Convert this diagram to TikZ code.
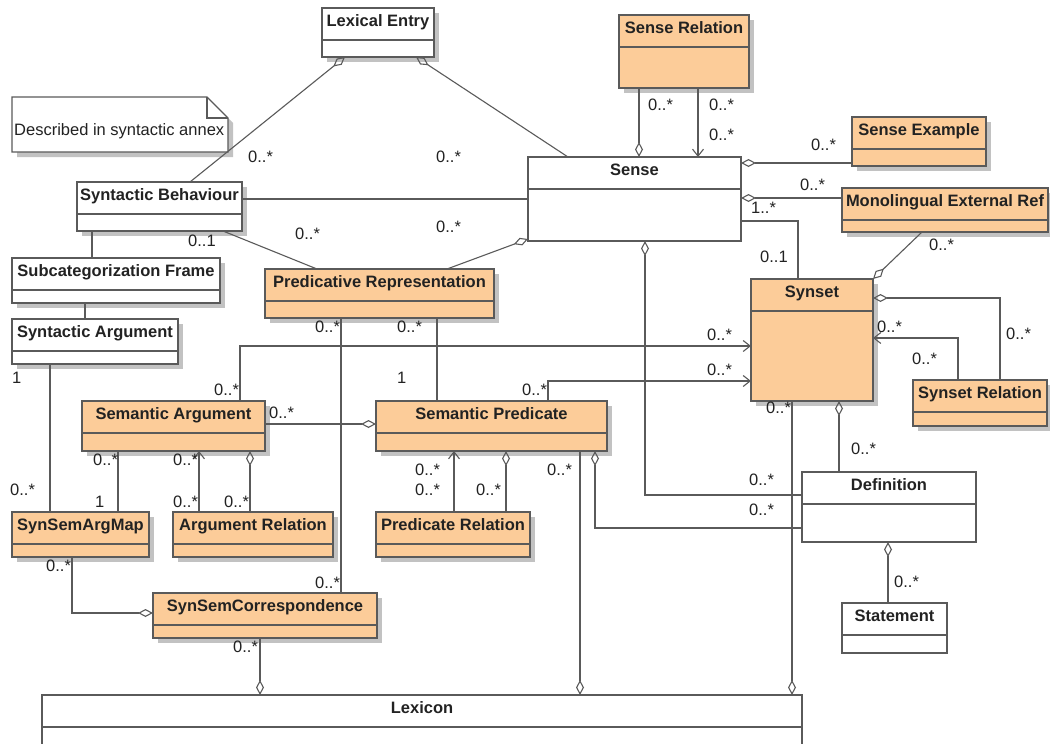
\documentclass[tikz,border=0pt]{standalone}
\usepackage{fontspec}
\setmainfont{Liberation Sans}
\usetikzlibrary{arrows.meta,shadows}

\definecolor{umlline}{HTML}{5A5A5A}
\definecolor{umlfill}{HTML}{FCCC99}
\definecolor{umlshadow}{HTML}{C2C2C2}
\definecolor{umltext}{HTML}{222222}

\tikzset{
  box/.style={draw=umlline, line width=1.1pt, fill=white, rectangle,
    inner sep=0pt, outer sep=0pt, anchor=north west},
  shadowed/.style={drop shadow={shadow xshift=5pt, shadow yshift=-5pt,
    fill=umlshadow, opacity=1}},
  entity/.style={fill=umlfill},
  plainbox/.style={},
  umldiv/.style={draw=umlline, line width=1.1pt},
  title/.style={anchor=base, inner sep=0pt, text=umltext,
    font=\bfseries\fontsize{16.5}{19}\selectfont},
  mult/.style={anchor=base west, inner sep=0pt, text=umltext,
    font=\fontsize{16.5}{19}\selectfont},
  conn/.style={draw=umlline, line width=1.1pt},
  aggend/.style={conn, -{Diamond[open, length=15pt, width=8pt]}},
  aggstart/.style={conn, {Diamond[open, length=15pt, width=8pt]}-},
  navend/.style={conn, -{Straight Barb[length=7pt, width=11pt]}},
}

% class box: name, x, y, width, height, style, title
\newcommand\umlclass[7]{%
  \node[box, #6, minimum width=#4pt, minimum height=#5pt] (#1) at (#2,#3) {};
  \draw[umldiv] ([yshift=-32pt]#1.north west) -- ([yshift=-32pt]#1.north east);
  \node[title] (#1-t) at ([yshift=-18pt]#1.north) {#7};
}
\newcounter{mlt}
\newcommand\mult[3]{\stepcounter{mlt}\node[mult] (m\arabic{mlt}) at (#1,#2) {#3};}

\begin{document}
\begin{tikzpicture}[x=1pt, y=-1pt]
\useasboundingbox (0,0) rectangle (1050,744);
\fill[white] (0,0) rectangle (1050,744);
\clip (0,0) rectangle (1050,744);

% ---- note ----
\fill[umlshadow] (17,102) -- (212,102) -- (233,123) -- (233,157) -- (17,157) -- cycle;
\draw[conn, fill=white] (12,97) -- (207,97) -- (228,118) -- (228,152) -- (12,152) -- cycle;
\draw[conn] (207,97) -- (207,118) -- (228,118);
\node[mult, font=\fontsize{16.5}{19}\selectfont] (notetext) at (14,135) {Described in syntactic annex};

% ---- classes ----
\umlclass{lexentry}{322}{8}{112}{49}{shadowed}{Lexical Entry}
\umlclass{senserel}{619}{15}{130}{73}{shadowed, entity}{Sense Relation}
\umlclass{synbeh}{77}{182}{165}{49}{shadowed}{Syntactic Behaviour}
\umlclass{sense}{528}{157}{213}{84}{plainbox}{Sense}
\umlclass{senseex}{852}{117}{134}{49}{shadowed, entity}{Sense Example}
\umlclass{monoref}{842}{188}{206}{44}{shadowed, entity}{Monolingual External Ref}
\umlclass{synset}{751}{279}{122}{122}{shadowed, entity}{Synset}
\umlclass{synrel}{913}{380}{134}{46}{shadowed, entity}{Synset Relation}
\umlclass{definition}{802}{472}{174}{70}{plainbox}{Definition}
\umlclass{statement}{842}{603}{105}{50}{plainbox}{Statement}
\umlclass{lexicon}{42}{695}{760}{70}{plainbox}{Lexicon}
\umlclass{subcat}{12}{258}{208}{45}{shadowed}{Subcategorization Frame}
\umlclass{synarg}{12}{319}{166}{45}{shadowed}{Syntactic Argument}
\umlclass{predrep}{265}{269}{229}{49}{shadowed, entity}{Predicative Representation}
\umlclass{semarg}{82}{401}{183}{50}{shadowed, entity}{Semantic Argument}
\umlclass{sempred}{376}{401}{231}{50}{shadowed, entity}{Semantic Predicate}
\umlclass{ssam}{12}{512}{137}{45}{shadowed, entity}{SynSemArgMap}
\umlclass{argrel}{173}{512}{160}{45}{shadowed, entity}{Argument Relation}
\umlclass{predrel}{376}{512}{154}{45}{shadowed, entity}{Predicate Relation}
\umlclass{ssc}{153}{593}{224}{45}{shadowed, entity}{SynSemCorrespondence}

% ---- connectors ----
\draw[aggstart] ([xshift=23pt]lexentry.south west) -- ([xshift=113pt]synbeh.north west);
\draw[aggstart] ([xshift=94pt]lexentry.south west) -- ([xshift=40pt]sense.north west);
\draw[aggend] ([xshift=20pt]senserel.south west) coordinate (t) -- (t |- sense.north);
\draw[navend] ([xshift=79pt]senserel.south west) coordinate (t) -- (t |- sense.north);
\draw[aggend] ([yshift=3pt]senseex.south west) coordinate (t) -- (t -| sense.east);
\draw[aggend] ([yshift=-10pt]monoref.north west) coordinate (t) -- (t -| sense.east);
\draw[conn] ([yshift=-64pt]sense.north east) -| ([xshift=47pt]synset.north west);
\draw[conn] ([yshift=-17pt]synbeh.north east) coordinate (t) -- (t -| sense.west);
\draw[conn] ([xshift=146pt]synbeh.south west) -- ([xshift=52pt]predrep.north west);
\draw[aggend] ([xshift=182pt]predrep.north west) -- ([yshift=2pt]sense.south west);
\draw[conn] ([xshift=15pt]synbeh.south west) coordinate (t) -- (t |- subcat.north);
\draw[conn] ([xshift=73pt]subcat.south west) coordinate (t) -- (t |- synarg.north);
\draw[conn] ([xshift=38pt]synarg.south west) coordinate (t) -- (t |- ssam.north);
\draw[navend] ([xshift=158pt]semarg.north west) |- ([yshift=-67pt]synset.north west);
\draw[navend] ([xshift=172pt]sempred.north west) |- ([yshift=-102pt]synset.north west);
\draw[conn] ([xshift=172pt]predrep.south west) coordinate (t) -- (t |- sempred.north);
\draw[conn] ([xshift=76pt]predrep.south west) coordinate (t) -- (t |- ssc.north);
\draw[aggend] ([yshift=-23pt]semarg.north east) coordinate (t) -- (t -| sempred.west);
\draw[conn] ([xshift=36pt]semarg.south west) coordinate (t) -- (t |- ssam.north);
\draw[navend] ([xshift=26pt]argrel.north west) coordinate (t) -- (t |- semarg.south);
\draw[aggend] ([xshift=77pt]argrel.north west) coordinate (t) -- (t |- semarg.south);
\draw[aggend] ([xshift=60pt]ssam.south west) |- ([yshift=-20pt]ssc.north west);
\draw[aggend] ([xshift=107pt]ssc.south west) coordinate (t) -- (t |- lexicon.north);
\draw[navend] ([xshift=78pt]predrel.north west) coordinate (t) -- (t |- sempred.south);
\draw[aggend] ([xshift=130pt]predrel.north west) coordinate (t) -- (t |- sempred.south);
\draw[aggend] ([xshift=204pt]sempred.south west) coordinate (t) -- (t |- lexicon.north);
\draw[aggend] ([yshift=-56pt]definition.north west) -| ([xshift=219pt]sempred.south west);
\draw[aggend] ([yshift=-23pt]definition.north west) -| ([xshift=117pt]sense.south west);
\draw[aggend] ([xshift=41pt]synset.south west) coordinate (t) -- (t |- lexicon.north);
\draw[aggend] ([xshift=37pt]definition.north west) coordinate (t) -- (t |- synset.south);
\draw[aggend] ([xshift=46pt]statement.north west) coordinate (t) -- (t |- definition.south);
\draw[aggend] ([xshift=80pt]monoref.south west) -- (synset.north east);
\draw[aggend] ([xshift=87pt]synrel.north west) |- ([yshift=-19pt]synset.north east);
\draw[navend] ([xshift=45pt]synrel.north west) |- ([yshift=-59pt]synset.north east);

% ---- multiplicities ----
\mult{248}{162}{0..*}
\mult{436}{162}{0..*}
\mult{648}{110}{0..*}
\mult{709}{110}{0..*}
\mult{709}{140}{0..*}
\mult{811}{150}{0..*}
\mult{800}{190}{0..*}
\mult{751}{213}{1..*}
\mult{760}{262}{0..1}
\mult{188}{246}{0..1}
\mult{295}{239}{0..*}
\mult{436}{232}{0..*}
\mult{12}{383}{1}
\mult{10}{495}{0..*}
\mult{214}{395}{0..*}
\mult{707}{340}{0..*}
\mult{522}{395}{0..*}
\mult{707}{375}{0..*}
\mult{397}{332}{0..*}
\mult{397}{383}{1}
\mult{315}{332}{0..*}
\mult{315}{588}{0..*}
\mult{269}{418}{0..*}
\mult{93}{465}{0..*}
\mult{95}{507}{1}
\mult{173}{465}{0..*}
\mult{173}{507}{0..*}
\mult{224}{507}{0..*}
\mult{46}{571}{0..*}
\mult{233}{652}{0..*}
\mult{415}{475}{0..*}
\mult{415}{495}{0..*}
\mult{476}{495}{0..*}
\mult{547}{475}{0..*}
\mult{749}{485}{0..*}
\mult{749}{515}{0..*}
\mult{766}{413}{0..*}
\mult{851}{454}{0..*}
\mult{894}{587}{0..*}
\mult{929}{250}{0..*}
\mult{1006}{339}{0..*}
\mult{877}{332}{0..*}
\mult{912}{364}{0..*}
\end{tikzpicture}
\end{document}
